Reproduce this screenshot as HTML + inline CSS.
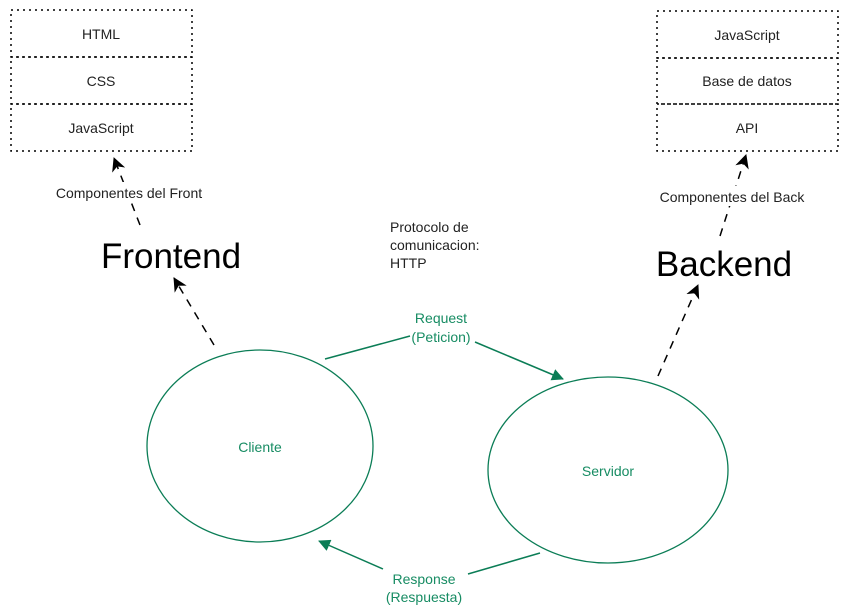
<!DOCTYPE html>
<html><head><meta charset="utf-8"><style>html,body{margin:0;padding:0;background:#fff}svg{display:block}text{font-family:"Liberation Sans",Arial,sans-serif}</style></head>
<body>
<svg width="848" height="615" viewBox="0 0 848 615" xmlns="http://www.w3.org/2000/svg">
<defs>
<marker id="ab" markerWidth="14" markerHeight="14" refX="13" refY="7" orient="auto" markerUnits="userSpaceOnUse" viewBox="0 0 14 14"><path d="M0,0 L14,7 L0,14 L4,7 z" fill="#000"/></marker>
<marker id="ag" markerWidth="12" markerHeight="12" refX="11" refY="6" orient="auto" markerUnits="userSpaceOnUse" viewBox="0 0 12 12"><path d="M0,0 L12,6 L0,12 z" fill="#0b7d56"/></marker>
</defs>
<g fill="none" stroke="#000" stroke-width="1.5" stroke-dasharray="2,4">
<rect x="11" y="10" width="181" height="47"/>
<rect x="11" y="57" width="181" height="47"/>
<rect x="11" y="104" width="181" height="47"/>
<rect x="657" y="11" width="181" height="47"/>
<rect x="657" y="58" width="181" height="46"/>
<rect x="657" y="104" width="181" height="47"/>
</g>
<g font-size="14" fill="#222" text-anchor="middle">
<text x="101" y="39">HTML</text>
<text x="101" y="86">CSS</text>
<text x="101" y="133">JavaScript</text>
<text x="747" y="40">JavaScript</text>
<text x="747" y="86">Base de datos</text>
<text x="747" y="133">API</text>
</g>
<g stroke="#000" stroke-width="1.5" stroke-dasharray="8,7" fill="none">
<line x1="140" y1="225" x2="114" y2="158" marker-end="url(#ab)"/>
<line x1="214" y1="345" x2="174" y2="278" marker-end="url(#ab)"/>
<line x1="658" y1="376" x2="698" y2="285" marker-end="url(#ab)"/>
<line x1="720" y1="236" x2="746" y2="155" marker-end="url(#ab)"/>
</g>
<rect x="42" y="182" width="174" height="20" fill="#fff"/>
<text x="129" y="198" font-size="14" fill="#222" text-anchor="middle">Componentes del Front</text>
<rect x="646" y="186" width="172" height="20" fill="#fff"/>
<text x="732" y="202" font-size="14" fill="#222" text-anchor="middle">Componentes del Back</text>
<text x="171" y="268" font-size="35" fill="#000" text-anchor="middle">Frontend</text>
<text x="724" y="276" font-size="35" fill="#000" text-anchor="middle">Backend</text>
<g font-size="14" fill="#222"><text x="390" y="232">Protocolo de</text><text x="390" y="250">comunicacion:</text><text x="390" y="268">HTTP</text></g>
<g fill="none" stroke="#0b7d56" stroke-width="1.3">
<ellipse cx="260" cy="446" rx="113" ry="96"/>
<ellipse cx="608" cy="470" rx="120" ry="93"/>
</g>
<g fill="none" stroke="#0b7d56" stroke-width="1.5">
<polyline points="325,359 410,336"/>
<line x1="475" y1="342" x2="563" y2="379" marker-end="url(#ag)"/>
<line x1="540" y1="553" x2="468" y2="574"/>
<line x1="383" y1="569" x2="319" y2="541" marker-end="url(#ag)"/>
</g>
<g font-size="14" fill="#178c63" text-anchor="middle">
<text x="441" y="323">Request</text><text x="441" y="342">(Peticion)</text>
<text x="424" y="584">Response</text><text x="424" y="602">(Respuesta)</text>
<text x="260" y="452">Cliente</text>
<text x="608" y="476">Servidor</text>
</g>
</svg>
</body></html>
